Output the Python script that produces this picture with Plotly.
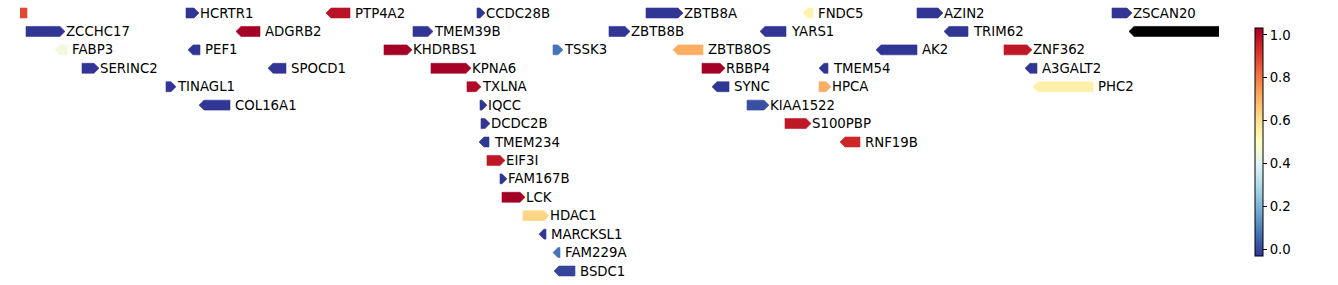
import plotly.graph_objects as go
from plotly.colors import sample_colorscale

# Gene track data (coordinates in kb-like units along the region)
names   = ["", "HCRTR1", "PTP4A2", "CCDC28B", "ZBTB8A", "FNDC5", "AZIN2", "ZSCAN20",
           "ZCCHC17", "ADGRB2", "TMEM39B", "ZBTB8B", "YARS1", "TRIM62", "",
           "FABP3", "PEF1", "KHDRBS1", "TSSK3", "ZBTB8OS", "AK2", "ZNF362",
           "SERINC2", "SPOCD1", "KPNA6", "RBBP4", "TMEM54", "A3GALT2",
           "TINAGL1", "TXLNA", "SYNC", "HPCA", "PHC2",
           "COL16A1", "IQCC", "KIAA1522",
           "DCDC2B", "S100PBP",
           "TMEM234", "RNF19B",
           "EIF3I", "FAM167B", "LCK", "HDAC1", "MARCKSL1", "FAM229A", "BSDC1"]
starts  = [10, 186, 326, 477, 646, 803, 917, 1112,
           26, 236, 413, 609, 760, 944, 1129,
           55, 188, 384, 553, 673, 876, 1004,
           82, 268, 431, 702, 819, 1025,
           166, 467, 712, 819, 1033,
           199, 480, 747,
           481, 785,
           479, 840,
           487, 500, 502, 523, 539, 553, 554]
ends    = [27, 199, 350, 485, 683, 813, 943, 1132,
           65, 260, 433, 630, 786, 968, 1240,
           67, 200, 412, 563, 703, 917, 1032,
           99, 286, 471, 725, 828, 1037,
           176, 481, 729, 831, 1093,
           230, 487, 769,
           490, 811,
           489, 860,
           505, 507, 525, 549, 546, 560, 575]
strands = ["-", "+", "-", "+", "+", "-", "+", "+",
           "+", "-", "+", "+", "-", "-", "-",
           "-", "-", "+", "+", "-", "-", "+",
           "+", "-", "+", "+", "-", "-",
           "+", "+", "-", "+", "-",
           "-", "+", "+",
           "+", "+",
           "-", "-",
           "+", "+", "+", "+", "-", "-", "-"]
rows    = [0, 0, 0, 0, 0, 0, 0, 0,
           1, 1, 1, 1, 1, 1, 1,
           2, 2, 2, 2, 2, 2, 2,
           3, 3, 3, 3, 3, 3,
           4, 4, 4, 4, 4,
           5, 5, 5,
           6, 6,
           7, 7,
           8, 9, 10, 11, 12, 13, 14]
values  = [0.86, 0.0, 0.96, 0.0, 0.0, 0.54, 0.0, 0.0,
           0.0, 1.0, 0.0, 0.0, 0.0, 0.0, None,
           0.45, 0.0, 1.0, 0.1, 0.7, 0.0, 0.95,
           0.0, 0.0, 1.0, 1.0, 0.0, 0.0,
           0.0, 0.98, 0.0, 0.7, 0.55,
           0.0, 0.0, 0.04,
           0.0, 0.95,
           0.0, 0.92,
           0.95, 0.0, 1.0, 0.62, 0.0, 0.1, 0.02]

cmin, cmax = -0.032, 1.032
XMIN, XMAX = 20, 1219
HALF = 0.27
HEAD = 5.0

fig = go.Figure()
for n, s, e, st, r, v in zip(names, starts, ends, strands, rows, values):
    if v is None:
        col = "black"
    else:
        col = sample_colorscale("RdYlBu_r", [min(max(v, 0.0), 1.0)])[0]
    w = e - s
    h = min(HEAD, 0.7 * w)
    if st == "+":
        xs = [s, e - h, e, e - h, s, s]
    else:
        xs = [e, s + h, s, s + h, e, e]
    ys = [r - HALF, r - HALF, r, r + HALF, r + HALF, r - HALF]
    fig.add_trace(go.Scatter(x=xs, y=ys, mode="lines", fill="toself",
                             fillcolor=col, line=dict(color=col, width=0.6),
                             hoverinfo="skip", showlegend=False))
    if n:
        fig.add_annotation(x=e, y=r, text=n, showarrow=False,
                           xanchor="left", yanchor="middle",
                           xshift=(0 if st == "+" else 4), borderpad=0,
                           font=dict(family="DejaVu Sans", size=13.3, color="black"))

# colorbar
fig.add_trace(go.Scatter(x=[None], y=[None], mode="markers", showlegend=False,
                         marker=dict(color=[0], colorscale="RdYlBu_r", cmin=cmin, cmax=cmax,
                                     showscale=True,
                                     colorbar=dict(x=1255 / 1338, xanchor="left",
                                                   y=1 - 142 / 285, yanchor="middle",
                                                   len=228, lenmode="pixels",
                                                   thickness=8, thicknessmode="pixels",
                                                   outlinecolor="black", outlinewidth=1,
                                                   ticks="outside", ticklen=4, tickcolor="black",
                                                   tickvals=[0, 0.2, 0.4, 0.6, 0.8, 1.0],
                                                   ticktext=["0.0", "0.2", "0.4", "0.6", "0.8", "1.0"],
                                                   tickfont=dict(family="DejaVu Sans", size=13.3, color="black"),
                                                   xpad=0, ypad=0))))

row_px = 258 / 14
fig.update_layout(
    width=1338, height=285, margin=dict(l=0, r=0, t=0, b=0),
    paper_bgcolor="white", plot_bgcolor="white",
    xaxis=dict(domain=[XMIN / 1338, XMAX / 1338], range=[XMIN, XMAX],
               visible=False, showgrid=False, zeroline=False),
    yaxis=dict(domain=[0, 1], range=[(285 - 13) / row_px, -13 / row_px],
               visible=False, showgrid=False, zeroline=False),
)
fig.write_html("out.html")
